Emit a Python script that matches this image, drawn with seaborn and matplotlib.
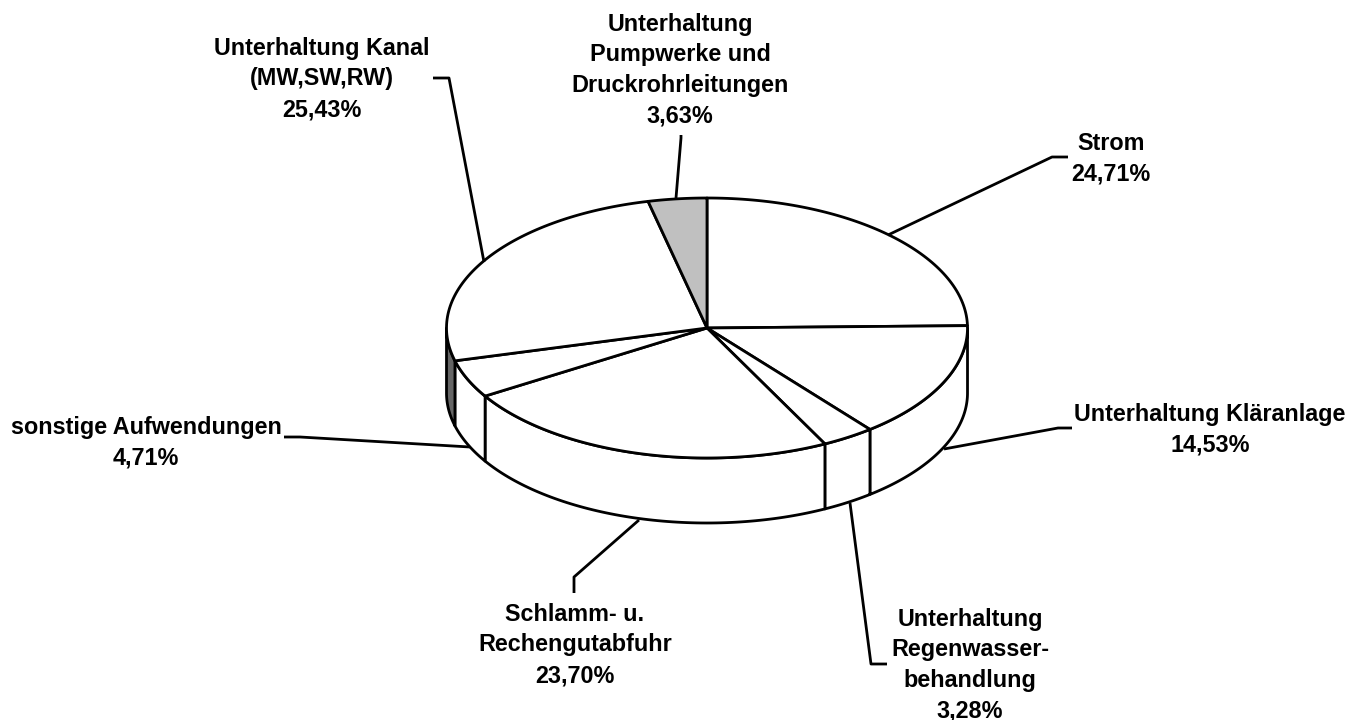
"""Expense shares as a tilted 3D pie, with leader lines to bold labels."""

import matplotlib

matplotlib.use("Agg")
import matplotlib.pyplot as plt
import numpy as np
import seaborn as sns
from matplotlib.patches import Polygon

LABELS = [
    "Strom",
    "Unterhaltung Kläranlage",
    "Unterhaltung\nRegenwasser-\nbehandlung",
    "Schlamm- u.\nRechengutabfuhr",
    "sonstige Aufwendungen",
    "Unterhaltung Kanal\n(MW,SW,RW)",
    "Unterhaltung\nPumpwerke und\nDruckrohrleitungen",
]
SHARES = [24.71, 14.53, 3.28, 23.70, 4.71, 25.43, 3.63]
TOPS = ["white", "white", "white", "white", "white", "white", "#c0c0c0"]
SIDES = ["white", "white", "white", "white", "white", "#666666", "#c0c0c0"]

# label centre in pixels, then the leader line from the pie outwards
LABEL_POS = [
    (1111, 159), (1210, 430), (970, 665), (575, 645), (146, 443), (322, 79), (680, 70),
]
LEADERS = [
    [(888, 235), (1052, 157), (1068, 157)],
    [(944, 449), (1058, 428), (1072, 428)],
    [(850, 503), (871, 664), (887, 664)],
    [(639, 520), (574, 577), (574, 593)],
    [(470, 447), (300, 437), (284, 437)],
    [(484, 262), (449, 78), (433, 78)],
    [(676, 198), (681, 138), (681, 135)],
]

CX, CY = 707, 328
RX, RY = 260.5, 130
DEPTH = 65


def rim(a0, a1, drop=0):
    """Points on the ellipse, angles in degrees clockwise from the top."""
    t = np.radians(np.linspace(a0, a1, 80))
    return np.column_stack([CX + RX * np.sin(t), CY - RY * np.cos(t) + drop])


sns.set_theme(style="white")
plt.rcParams["font.family"] = ["Liberation Sans", "DejaVu Sans"]

fig = plt.figure(figsize=(13.61, 7.2), dpi=100)
ax = fig.add_axes([0, 0, 1, 1])
ax.set_xlim(0, 1361)
ax.set_ylim(720, 0)
ax.set_axis_off()

edges = np.concatenate([[0], np.cumsum(SHARES)]) / sum(SHARES) * 360
line = {"edgecolor": "black", "linewidth": 2, "joinstyle": "round"}

for a0, a1, side in zip(edges[:-1], edges[1:], SIDES):
    # only the front half of the rim is visible
    lo, hi = max(a0, 90), min(a1, 270)
    if lo < hi:
        wall = np.vstack([rim(lo, hi), rim(lo, hi, DEPTH)[::-1]])
        ax.add_patch(Polygon(wall, facecolor=side, zorder=1, **line))

for a0, a1, top in zip(edges[:-1], edges[1:], TOPS):
    wedge = np.vstack([[(CX, CY)], rim(a0, a1)])
    ax.add_patch(Polygon(wedge, facecolor=top, zorder=2, **line))

for path in LEADERS:
    xs, ys = zip(*path)
    ax.plot(xs, ys, color="black", lw=2, zorder=3, solid_capstyle="butt")

for label, share, (x, y) in zip(LABELS, SHARES, LABEL_POS):
    value = f"{share:.2f}%".replace(".", ",")
    ax.text(
        x, y, f"{label}\n{value}", ha="center", va="center", fontsize=16.8,
        fontweight="bold", color="black", linespacing=1.42, zorder=4,
    )

fig.savefig("out.png", dpi=100)
